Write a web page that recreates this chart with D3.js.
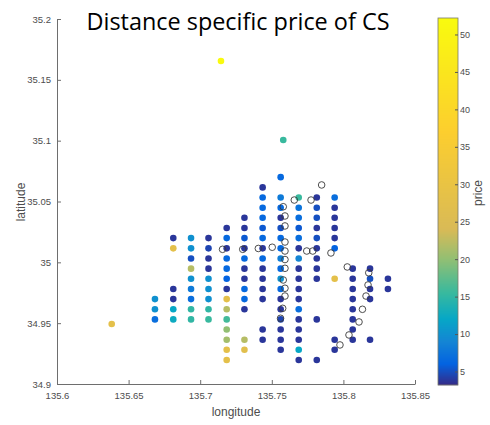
<!DOCTYPE html>
<html>
<head>
<meta charset="utf-8">
<script src="https://cdn.jsdelivr.net/npm/d3@7"></script>
<style>
  body { margin: 0; background: #fff; }
  svg { display: block; }
</style>
</head>
<body>
<svg width="490" height="425"></svg>
<script>
// filled stations: longitude, latitude, price (one line per grid column)
var lon = [
  135.6684, 135.6684, 135.6684,
  135.6812, 135.6812, 135.6812, 135.6812, 135.6812, 135.6812,
  135.6936, 135.6936, 135.6936, 135.6936, 135.6936, 135.6936, 135.6936, 135.6936, 135.6936,
  135.7058, 135.7058, 135.7058, 135.7058, 135.7058, 135.7058, 135.7058, 135.7058, 135.7058,
  135.7185, 135.7185, 135.7185, 135.7185, 135.7185, 135.7185, 135.7185, 135.7185, 135.7185, 135.7185, 135.7185, 135.7185, 135.7185, 135.7185,
  135.7309, 135.7309, 135.7309, 135.7309, 135.7309, 135.7309, 135.7309, 135.7309, 135.7309, 135.7309, 135.7309, 135.7309,
  135.7436, 135.7436, 135.7436, 135.7436, 135.7436, 135.7436, 135.7436, 135.7436, 135.7436, 135.7436, 135.7436, 135.7436, 135.7436, 135.7436,
  135.7562, 135.7562, 135.7562, 135.7562, 135.7562, 135.7562, 135.7562, 135.7562, 135.7562, 135.7562, 135.7562, 135.7562, 135.7562, 135.7562, 135.7562, 135.7562, 135.7562,
  135.7688, 135.7688, 135.7688, 135.7688, 135.7688, 135.7688, 135.7688, 135.7688, 135.7688, 135.7688, 135.7688, 135.7688, 135.7688, 135.7688, 135.7688, 135.7688, 135.7688,
  135.7814, 135.7814, 135.7814, 135.7814, 135.7814, 135.7814, 135.7814, 135.7814, 135.7814, 135.7814, 135.7814,
  135.7939, 135.7939, 135.7939, 135.7939, 135.7939, 135.7939, 135.7939, 135.7939, 135.7939,
  135.8065, 135.8065, 135.8065, 135.8065, 135.8065, 135.8065, 135.8065, 135.8065,
  135.8186, 135.8186, 135.8186, 135.8186, 135.8186,
  135.8311, 135.8311,
  135.7145, 135.7580, 135.6382
];
var lat = [
  34.9698, 34.9614, 34.9531,
  35.0199, 35.0115, 34.9781, 34.9698, 34.9614, 34.9531,
  35.0199, 35.0115, 35.0032, 34.9948, 34.9865, 34.9781, 34.9698, 34.9614, 34.9531,
  35.0199, 35.0115, 35.0032, 34.9948, 34.9865, 34.9781, 34.9698, 34.9614, 34.9531,
  35.0282, 35.0199, 35.0115, 35.0032, 34.9948, 34.9865, 34.9781, 34.9698, 34.9614, 34.9531, 34.9448, 34.9364, 34.9281, 34.9197,
  35.0366, 35.0282, 35.0199, 35.0115, 35.0032, 34.9948, 34.9865, 34.9781, 34.9698, 34.9614, 34.9364, 34.9281,
  35.0616, 35.0533, 35.0449, 35.0366, 35.0282, 35.0199, 35.0115, 35.0032, 34.9948, 34.9865, 34.9781, 34.9698, 34.9448, 34.9364,
  35.0700, 35.0533, 35.0449, 35.0366, 35.0282, 35.0199, 35.0115, 35.0032, 34.9948, 34.9865, 34.9781, 34.9698, 34.9614, 34.9531, 34.9448, 34.9364, 34.9281,
  35.0533, 35.0449, 35.0366, 35.0282, 35.0199, 35.0115, 35.0032, 34.9948, 34.9865, 34.9781, 34.9698, 34.9614, 34.9531, 34.9448, 34.9364, 34.9281, 34.9197,
  35.0533, 35.0449, 35.0366, 35.0282, 35.0199, 35.0115, 35.0032, 34.9948, 34.9865, 34.9531, 34.9197,
  35.0533, 35.0449, 35.0366, 35.0282, 35.0199, 35.0115, 34.9865, 34.9364, 34.9281,
  34.9948, 34.9865, 34.9781, 34.9698, 34.9614, 34.9531, 34.9448, 34.9364,
  34.9948, 34.9865, 34.9781, 34.9698, 34.9364,
  34.9865, 34.9781,
  35.1655, 35.1005, 34.9493
];
var price = [
  10, 10, 7,
  3.8, 28, 3.8, 3.8, 12, 12.5,
  10, 10, 5, 22, 10, 8, 7, 15, 15,
  3.8, 4.5, 3.8, 3.8, 10, 10, 10, 15, 15.5,
  3.8, 6.5, 3.8, 6.5, 6.5, 6, 3.8, 28, 22, 16, 20, 21, 28, 28,
  3.8, 3.8, 5.5, 3.8, 6.5, 3.8, 3.8, 6.5, 6.5, 3.8, 22, 27,
  3.8, 6.5, 6.5, 6.5, 5.5, 6.5, 3.8, 6.5, 3.8, 3.8, 3.8, 3.8, 3.8, 3.8,
  6.5, 8, 6.5, 3.8, 5, 6.5, 6.5, 8.5, 6.5, 10, 6.5, 3.8, 3.8, 4.5, 3.8, 3.8, 3.8,
  15.5, 7.5, 7, 5.5, 7, 3.8, 9, 3.8, 3.8, 3.8, 3.8, 7, 3.8, 3.8, 3.8, 12, 3.8,
  3.8, 5, 5, 3.8, 5, 3.8, 3.8, 3.8, 3.8, 3.8, 3.8,
  7, 3.8, 3.8, 3.8, 3.8, 6, 28, 3.8, 3.8,
  3.8, 3.8, 3.8, 3.8, 3.8, 3.8, 3.8, 3.8,
  3.8, 5, 3.8, 3.8, 3.8,
  3.8, 3.8,
  52, 15.5, 28
];

// stations without a price (open markers)
var emptyLon = [135.7156, 135.7297, 135.7406, 135.7503, 135.7580, 135.7592, 135.7592, 135.7592, 135.7592,
  135.7592, 135.7592, 135.7580, 135.7592, 135.7592, 135.7576, 135.7657, 135.7774, 135.7848, 135.7744,
  135.7786, 135.7913, 135.8027, 135.8177, 135.8172, 135.8158, 135.8133, 135.8109, 135.8039, 135.7976, 135.7561];
var emptyLat = [35.0107, 35.0107, 35.0114, 35.0124, 35.0457, 35.0381, 35.0299, 35.0167, 35.0093,
  35.0023, 34.9951, 34.9855, 34.9787, 34.9723, 34.9622, 35.0512, 35.0512, 35.0636, 35.0093,
  35.0093, 35.0077, 34.9962, 34.9914, 34.9814, 34.9723, 34.9614, 34.9510, 34.9403, 34.9321, 34.9540];

var xTicks = [135.6, 135.65, 135.7, 135.75, 135.8, 135.85];
var yTicks = [34.9, 34.95, 35, 35.05, 35.1, 35.15, 35.2];
var priceTicks = [5, 10, 15, 20, 25, 30, 35, 40, 45, 50];

// parula-like colormap, stretched to match the colorbar
var cmapStops = [3.2, 6, 9, 12, 15.5, 20, 24, 37, 52.2];
var cmapColors = ["#352a87", "#0363e1", "#1485d4", "#06a7c6", "#38b99e", "#92bf73", "#d9ba56", "#fcce2e", "#f9fb0e"];

var svg = d3.select("svg");
var fontFam = "'Liberation Sans', Arial, sans-serif";
var axisColor = "#6e6e6e";
var textColor = "#4d4d4d";

var x = d3.scaleLinear().domain([135.6, 135.85]).range([57, 415]);
var y = d3.scaleLinear().domain([34.9, 35.2]).range([384, 19]);
var color = d3.scaleLinear().domain(cmapStops).range(cmapColors).clamp(true);

// axes
var xAxis = svg.append("g")
    .attr("transform", "translate(0,384)")
    .call(d3.axisBottom(x).tickValues(xTicks).tickSizeInner(-4).tickSizeOuter(0).tickPadding(8)
      .tickFormat(function(d) { return String(+d.toFixed(2)); }));
var yAxis = svg.append("g")
    .attr("transform", "translate(57,0)")
    .call(d3.axisLeft(y).tickValues(yTicks).tickSizeInner(-4).tickSizeOuter(0).tickPadding(6)
      .tickFormat(function(d) { return String(+d.toFixed(2)); }));

[xAxis, yAxis].forEach(function(a) {
  a.select(".domain").attr("stroke", axisColor);
  a.selectAll(".tick line").attr("stroke", axisColor);
  a.selectAll(".tick text").attr("fill", textColor).style("font-family", fontFam).style("font-size", "9.5px");
});

svg.append("text")
    .attr("x", 236).attr("y", 416)
    .attr("text-anchor", "middle")
    .attr("fill", textColor)
    .style("font-family", fontFam).style("font-size", "12px")
    .text("longitude");

svg.append("text")
    .attr("transform", "translate(25,202) rotate(-90)")
    .attr("text-anchor", "middle")
    .attr("fill", textColor)
    .style("font-family", fontFam).style("font-size", "12px")
    .text("latitude");

// title
svg.append("text")
    .attr("x", 238).attr("y", 30)
    .attr("text-anchor", "middle")
    .attr("fill", "#000")
    .attr("textLength", 303)
    .attr("lengthAdjust", "spacingAndGlyphs")
    .style("font-family", "'Open Sans', 'Noto Sans', sans-serif").style("font-size", "23px")
    .text("Distance specific price of CS");

// filled markers
var points = d3.range(lon.length).map(function(i) { return {lon: lon[i], lat: lat[i], price: price[i]}; });
svg.append("g").selectAll("circle")
    .data(points)
    .enter().append("circle")
    .attr("cx", function(d) { return x(d.lon); })
    .attr("cy", function(d) { return y(d.lat); })
    .attr("r", 3.3)
    .attr("fill", function(d) { return color(d.price); });

// open markers
var empties = d3.range(emptyLon.length).map(function(i) { return {lon: emptyLon[i], lat: emptyLat[i]}; });
svg.append("g").selectAll("circle")
    .data(empties)
    .enter().append("circle")
    .attr("cx", function(d) { return x(d.lon); })
    .attr("cy", function(d) { return y(d.lat); })
    .attr("r", 3.3)
    .attr("fill", "none")
    .attr("stroke", "#3a3a3a")
    .attr("stroke-width", 0.9);

// colorbar
var cb = {x: 438, w: 20, top: 18, bottom: 385};
var cy = d3.scaleLinear().domain([3.2, 52.2]).range([cb.bottom, cb.top]);
var cbG = svg.append("g");
cbG.selectAll("rect")
    .data(d3.range(cb.top, cb.bottom))
    .enter().append("rect")
    .attr("x", cb.x)
    .attr("y", function(d) { return d; })
    .attr("width", cb.w)
    .attr("height", 1.2)
    .attr("fill", function(d) { return color(cy.invert(d + 0.5)); });
cbG.append("rect")
    .attr("x", cb.x).attr("y", cb.top)
    .attr("width", cb.w).attr("height", cb.bottom - cb.top)
    .attr("fill", "none").attr("stroke", "#7a7a6a").attr("stroke-width", 0.8);

var cAxis = svg.append("g")
    .attr("transform", "translate(" + (cb.x + cb.w) + ",0)")
    .call(d3.axisRight(cy).tickValues(priceTicks).tickSizeInner(-3).tickSizeOuter(0).tickPadding(2));
cAxis.select(".domain").remove();
cAxis.selectAll(".tick line").attr("stroke", "#555");
cAxis.selectAll(".tick text").attr("fill", textColor).style("font-family", fontFam).style("font-size", "9px");

svg.append("text")
    .attr("transform", "translate(482,193) rotate(-90)")
    .attr("text-anchor", "middle")
    .attr("fill", textColor)
    .style("font-family", fontFam).style("font-size", "12px")
    .text("price");
</script>
</body>
</html>
